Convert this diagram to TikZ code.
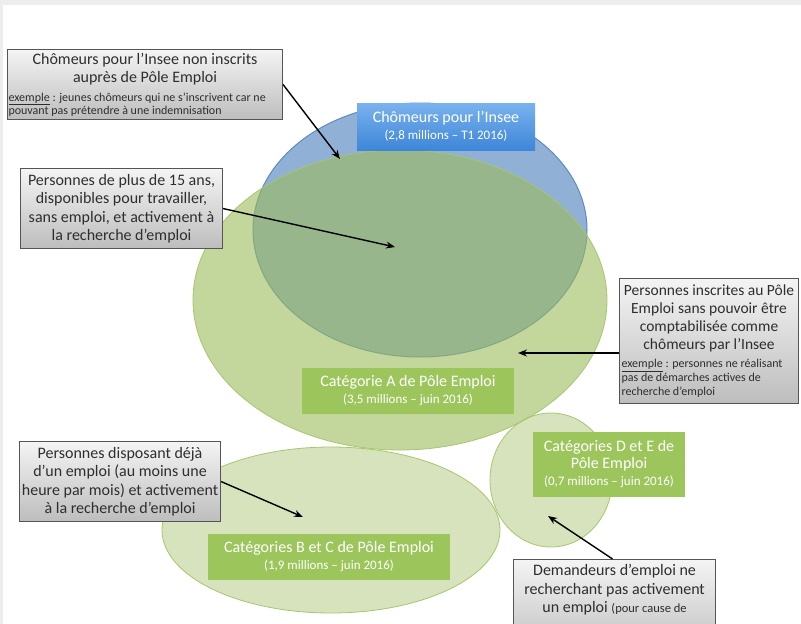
\documentclass[tikz,border=0pt]{standalone}
\usepackage{fontspec}
\setmainfont{Carlito}
\definecolor{frame}{HTML}{EDEDED}
\definecolor{inseefill}{HTML}{4F81BD}
\definecolor{inseeline}{HTML}{5C8BC4}
\definecolor{polefill}{HTML}{9BBB59}
\definecolor{poleline}{HTML}{A7C66E}
\definecolor{catgreen}{HTML}{9CC65C}
\definecolor{bluetop}{HTML}{7AB2EE}
\definecolor{bluebot}{HTML}{3D86D8}
\definecolor{boxtop}{HTML}{F4F4F4}
\definecolor{boxbot}{HTML}{BDBDBD}
\definecolor{boxline}{HTML}{555555}
\definecolor{boxink}{HTML}{2E2E2E}
\usetikzlibrary{positioning, shapes.geometric, arrows.meta, calc}
\newcommand{\txtsize}[2]{\fontsize{#1}{#2}\selectfont\spaceskip=0pt\xspaceskip=0pt}

\begin{document}
\begin{tikzpicture}[x=1pt, y=-1pt,
    callout/.style={draw=boxline, line width=1.1pt, top color=boxtop, bottom color=boxbot, text=boxink, anchor=north west, inner sep=1pt, align=center, font=\fontsize{16}{18.5}\selectfont},
    catbox/.style={fill=catgreen, text=white, align=center, inner sep=0pt, font=\fontsize{16}{17}\selectfont},
    pointer/.style={-{Stealth[length=9pt, width=7pt]}, line width=1.4pt, color=black}]
    \useasboundingbox (0,0) rectangle (801,624);
    \clip (0,0) rectangle (801,624);
    \fill[frame] (0,0) rectangle (801,624);
    \fill[white] (3,5) rectangle (801,624);

    % ensembles
    \node[ellipse, draw=inseeline, fill=inseefill, fill opacity=0.62, line width=1pt, minimum width=334pt, minimum height=254pt] (insee) at (420,230) {};
    \node[ellipse, draw=poleline, fill=polefill, fill opacity=0.4, line width=0.8pt, minimum width=338pt, minimum height=166pt] (catBC) at (331,530) {};
    \node[ellipse, draw=poleline, fill=polefill, fill opacity=0.4, line width=0.8pt, minimum width=122pt, minimum height=134pt] (catDE) at (551,480) {};
    \node[ellipse, draw=poleline, fill=polefill, fill opacity=0.6, line width=0.8pt, minimum width=414pt, minimum height=300pt] (catA) at (400,300) {};

    % etiquettes
    \node[catbox, top color=bluetop, bottom color=bluebot, minimum width=178pt, minimum height=47pt] (inseeLbl) at (446,126.5) {Chômeurs pour l’Insee\\ {\fontsize{13}{14}\selectfont (2,8 millions -- T1 2016)}};
    \node[catbox, minimum width=212pt, minimum height=46pt] (catALbl) at (408,391) {Catégorie A de Pôle Emploi\\ {\fontsize{13}{14}\selectfont (3,5 millions -- juin 2016)}};
    \node[catbox, minimum width=242pt, minimum height=46pt] (catBCLbl) at (329,557) {Catégories B et C de Pôle Emploi\\ {\fontsize{13}{14}\selectfont (1,9 millions -- juin 2016)}};
    \node[catbox, minimum width=152pt, minimum height=65pt] (catDELbl) at (609,464.5) {Catégories D et E de\\ Pôle Emploi\\ {\fontsize{13}{14}\selectfont (0,7 millions -- juin 2016)}};

    % encadres
    \node[callout, minimum width=275pt, minimum height=70pt, text width=273pt, align=left] (noReg) at (7,49) {{\centering\txtsize{16}{18} Chômeurs pour l’Insee non inscrits\\ auprès de Pôle Emploi\par}\vspace{6pt}{\txtsize{12}{13}\underline{exemple} : jeunes chômeurs qui ne s’inscrivent car ne\\ pouvant pas prétendre à une indemnisation\par}};
    \node[callout, minimum width=202pt, minimum height=80pt] (plus15) at (20,168) {Personnes de plus de 15 ans,\\ disponibles pour travailler,\\ sans emploi, et activement à\\ la recherche d’emploi};
    \node[callout, minimum width=179pt, minimum height=125pt, text width=179pt, inner xsep=0pt, align=left] (noCount) at (619,278) {{\centering\txtsize{15.5}{18} Personnes inscrites au Pôle\\ Emploi sans pouvoir être\\ comptabilisée comme\\ chômeurs par l’Insee\par}\vspace{4pt}{\leftskip=2pt\txtsize{12}{14}\underline{exemple} : personnes ne réalisant\\ pas de démarches actives de\\ recherche d’emploi\par}};
    \node[callout, minimum width=201pt, minimum height=80pt] (withJob) at (19,441) {Personnes disposant déjà\\ d’un emploi (au moins une\\ heure par mois) et activement\\ à la recherche d’emploi};
    \node[callout, minimum width=202pt, inner ysep=5pt, text depth=40pt] (notSeek) at (513,559) {Demandeurs d’emploi ne\\ recherchant pas activement\\ un emploi {\fontsize{12.5}{14}\selectfont (pour cause de}};

    % fleches
    \coordinate (tipNoReg) at (340,159);
    \coordinate (tipPlus15) at (395,247);
    \coordinate (tipNoCount) at (518,353);
    \coordinate (tipWithJob) at (303,517);
    \coordinate (tipNotSeek) at (548,516);
    \draw[pointer] (noReg.east) -- (tipNoReg);
    \draw[pointer] (plus15.east) -- (tipPlus15);
    \draw[pointer] (noCount.west |- tipNoCount) -- (tipNoCount);
    \draw[pointer] (withJob.east) -- (tipWithJob);
    \draw[pointer] ([xshift=-2pt]notSeek.north) -- (tipNotSeek);
\end{tikzpicture}
\end{document}
